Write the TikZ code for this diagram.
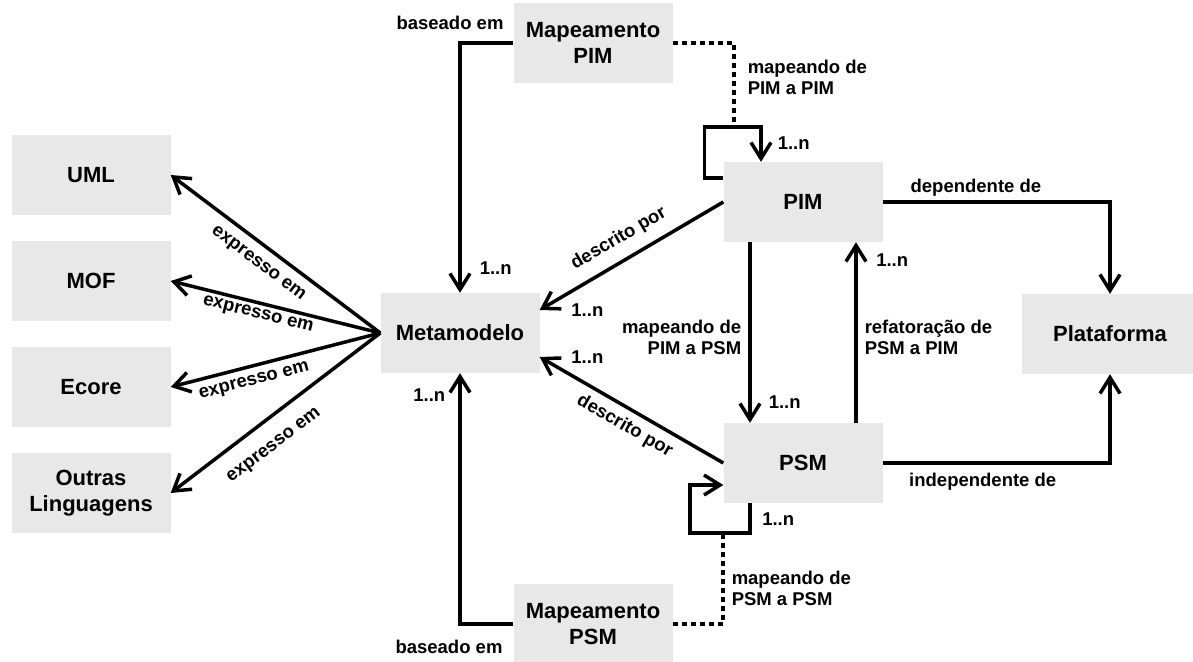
\documentclass[tikz,border=0pt]{standalone}
\usepackage{fontspec}
\setmainfont{Liberation Sans}
\usetikzlibrary{arrows.meta}

\definecolor{boxgray}{RGB}{232,232,232}

\tikzstyle{block} = [rectangle, fill=boxgray, text width=145pt, text centered,
     minimum width=159pt, minimum height=80pt, font=\bfseries\fontsize{22}{26}\selectfont]
\tikzstyle{line} = [draw, line width=3.5pt, -{Straight Barb[length=16pt,width=20pt]}]
\tikzstyle{dotline} = [draw, line width=3.5pt, dash pattern=on 5pt off 4pt]
\tikzstyle{lbl} = [font=\bfseries\fontsize{18.5}{21}\selectfont, inner sep=2pt]

\begin{document}
\begin{tikzpicture}[x=1pt, y=1pt, node distance=106pt]
    \useasboundingbox (0,0) rectangle (1193,661);
    % Place nodes
    \node [block] (uml) at (91,486) {UML};
    \node [block, below of=uml] (mof) {MOF};
    \node [block, below of=mof] (ecore) {Ecore};
    \node [block, below of=ecore] (outras) {Outras\\ Linguagens};
    \node [block] (metamodelo) at (460,328) {Metamodelo};
    \node [block] (pim) at (803,459) {PIM};
    \node [block, below of=pim, node distance=261pt] (psm) {PSM};
    \node [block, minimum width=176pt, text width=162pt] (plataforma) at (1110,327) {Plataforma};
    \node [block] (mapeamento_pim) at (593,618) {Mapeamento\\ PIM};
    \node [block] (mapeamento_psm) at (593,37) {Mapeamento\\ PSM};
    \coordinate (pim_loop_top) at (734,534);
    \coordinate (psm_loop_bottom) at (723,128);

    % Draw edges
    \path [line] (metamodelo.west) -- (uml.east) node [lbl, sloped, below=8pt, pos=0.53] (expr_uml) {expresso em};
    \path [line] (metamodelo.west) -- (mof.east) node [lbl, sloped, below=1.5pt, pos=0.57] (expr_mof) {expresso em};
    \path [line] (metamodelo.west) -- (ecore.east) node [lbl, sloped, below=5pt, pos=0.62] (expr_ecore) {expresso em};
    \path [line] (metamodelo.west) -- (outras.east) node [lbl, sloped, below=15pt, pos=0.58] (expr_outras) {expresso em};

    \path [line] (mapeamento_pim.west) -| (metamodelo.north)
        node [lbl, pos=0.5, above=10pt, xshift=-10pt] (base_pim) {baseado em}
        node [lbl, pos=0.95, right=16pt] (card_base_pim) {1..n};
    \path [line] (mapeamento_psm.west) -| (metamodelo.south)
        node [lbl, pos=0.5, below=12pt, xshift=-11pt] (base_psm) {baseado em}
        node [lbl, pos=0.956, left=11pt] (card_base_psm) {1..n};

    \path [line] (pim.west) -- ([yshift=23pt]metamodelo.east)
        node [lbl, sloped, above=9pt, pos=0.51] (desc_pim) {descrito por}
        node [lbl, pos=1, anchor=west, xshift=28pt] (card_desc_pim) {1..n};
    \path [line] (psm.west) -- ([yshift=-24pt]metamodelo.east)
        node [lbl, sloped, below=5pt, pos=0.49] (desc_psm) {descrito por}
        node [lbl, pos=1, anchor=west, xshift=28pt] (card_desc_psm) {1..n};

    \path [line] ([yshift=24pt]pim.west) -| ++(-19pt,51pt) -| ([xshift=-42pt]pim.north)
        node [lbl, pos=0.73, right=13pt] (card_loop_pim) {1..n};
    \path [dotline] (mapeamento_pim.east) -| (pim_loop_top)
        node [lbl, pos=0.705, right=10pt, align=left] (map_pim_pim) {mapeando de\\PIM a PIM};
    \path [line] ([xshift=-53pt]psm.south) |- ++(-60pt,-30pt) node [lbl, pos=0.27, right=8.5pt] (card_loop_psm) {1..n}
        |- ([yshift=-22pt]psm.west);
    \path [dotline] (mapeamento_psm.east) -| (psm_loop_bottom)
        node [lbl, pos=0.698, right=5pt, align=left] (map_psm_psm) {mapeando de\\PSM a PSM};

    \path [line] ([xshift=-53pt]pim.south) -- ([xshift=-53pt]psm.north)
        node [lbl, pos=0.525, left=5pt, align=right] (map_pim_psm) {mapeando de\\PIM a PSM}
        node [lbl, pos=0.884, right=15pt] (card_map_psm) {1..n};
    \path [line] ([xshift=53pt]psm.north) -- ([xshift=53pt]pim.south)
        node [lbl, pos=0.475, right=5pt, align=left] (ref_psm_pim) {refatoração de\\PSM a PIM}
        node [lbl, pos=0.9, right=16.5pt] (card_ref_pim) {1..n};

    \path [line] (pim.east) -| (plataforma.north)
        node [lbl, pos=0.205, above=2pt] (dep) {dependente de};
    \path [line] (psm.east) -| (plataforma.south)
        node [lbl, pos=0.22, below=6pt] (indep) {independente de};

\end{tikzpicture}
\end{document}
